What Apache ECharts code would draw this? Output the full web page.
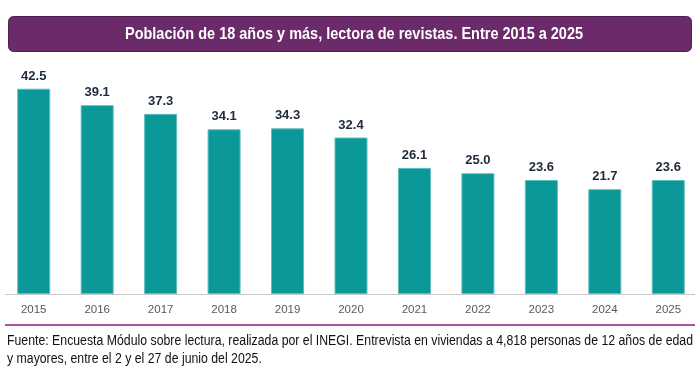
<!DOCTYPE html>
<html><head><meta charset="utf-8">
<script src="https://cdn.jsdelivr.net/npm/echarts@6/dist/echarts.min.js"></script>
<style>html,body{margin:0;padding:0;background:#fff}#c{width:700px;height:386px}</style>
</head><body><div id="c"></div>
<script>
const titleText = 'Población de 18 años y más, lectora de revistas. Entre 2015 a 2025';
const years = ['2015','2016','2017','2018','2019','2020','2021','2022','2023','2024','2025'];
const values = [42.5, 39.1, 37.3, 34.1, 34.3, 32.4, 26.1, 25.0, 23.6, 21.7, 23.6];
const sourceLines = [
  'Fuente: Encuesta Módulo sobre lectura, realizada por el INEGI. Entrevista en viviendas a 4,818 personas de 12 años de edad',
  'y mayores, entre el 2 y el 27 de junio del 2025.'
];
const ctx = document.createElement('canvas').getContext('2d');
function fitScale(text, font, target) { ctx.font = font; return target / ctx.measureText(text).width; }
const titleFont = 'bold 17px "Liberation Sans"';
const srcFont = '14px "Liberation Sans"';
const titleScale = fitScale(titleText, titleFont, 458);
const srcScale = fitScale(sourceLines[0], srcFont, 686);

const chart = echarts.init(document.getElementById('c'));
chart.setOption({
  animation: false,
  grid: {left: 2, top: 52.5, width: 700, height: 241.5, containLabel: false},
  xAxis: {
    type: 'category', data: years,
    axisLine: {show: false},
    axisTick: {show: false},
    axisLabel: {color: '#595959', fontSize: 11.5, fontFamily: 'Liberation Sans', margin: 10}
  },
  yAxis: {type: 'value', min: 0, max: 50, show: false, splitLine: {show: false}},
  series: [{
    type: 'bar', data: values, barCategoryGap: '48%',
    itemStyle: {color: '#0a9899', borderColor: '#5fbdbd', borderWidth: 1},
    label: {show: true, position: 'top', distance: 6, formatter: p => p.value.toFixed(1),
      color: '#1f2a3a', fontSize: 13, fontWeight: 'bold', fontFamily: 'Liberation Sans'}
  }],
  graphic: [
    {type: 'rect', shape: {x: 8.5, y: 16.5, width: 683, height: 35, r: 5},
      style: {fill: '#6b2a69', stroke: '#4e1f4d', lineWidth: 1}},
    {type: 'text', x: 354, y: 34.5, scaleX: titleScale, style: {text: titleText, fill: '#fff',
      font: titleFont, textAlign: 'center', textVerticalAlign: 'middle'}},
    {type: 'line', shape: {x1: 5, y1: 294.5, x2: 695, y2: 294.5}, style: {stroke: '#c8c8c8', lineWidth: 1}},
    {type: 'line', shape: {x1: 5, y1: 325, x2: 695, y2: 325}, style: {stroke: '#8e1a7e', lineWidth: 1.5}},
    {type: 'text', x: 7, y: 341, scaleX: srcScale, style: {text: sourceLines[0], fill: '#111',
      font: srcFont, textAlign: 'left', textVerticalAlign: 'middle'}},
    {type: 'text', x: 7, y: 359, scaleX: srcScale, style: {text: sourceLines[1], fill: '#111',
      font: srcFont, textAlign: 'left', textVerticalAlign: 'middle'}}
  ]
});
</script></body></html>
